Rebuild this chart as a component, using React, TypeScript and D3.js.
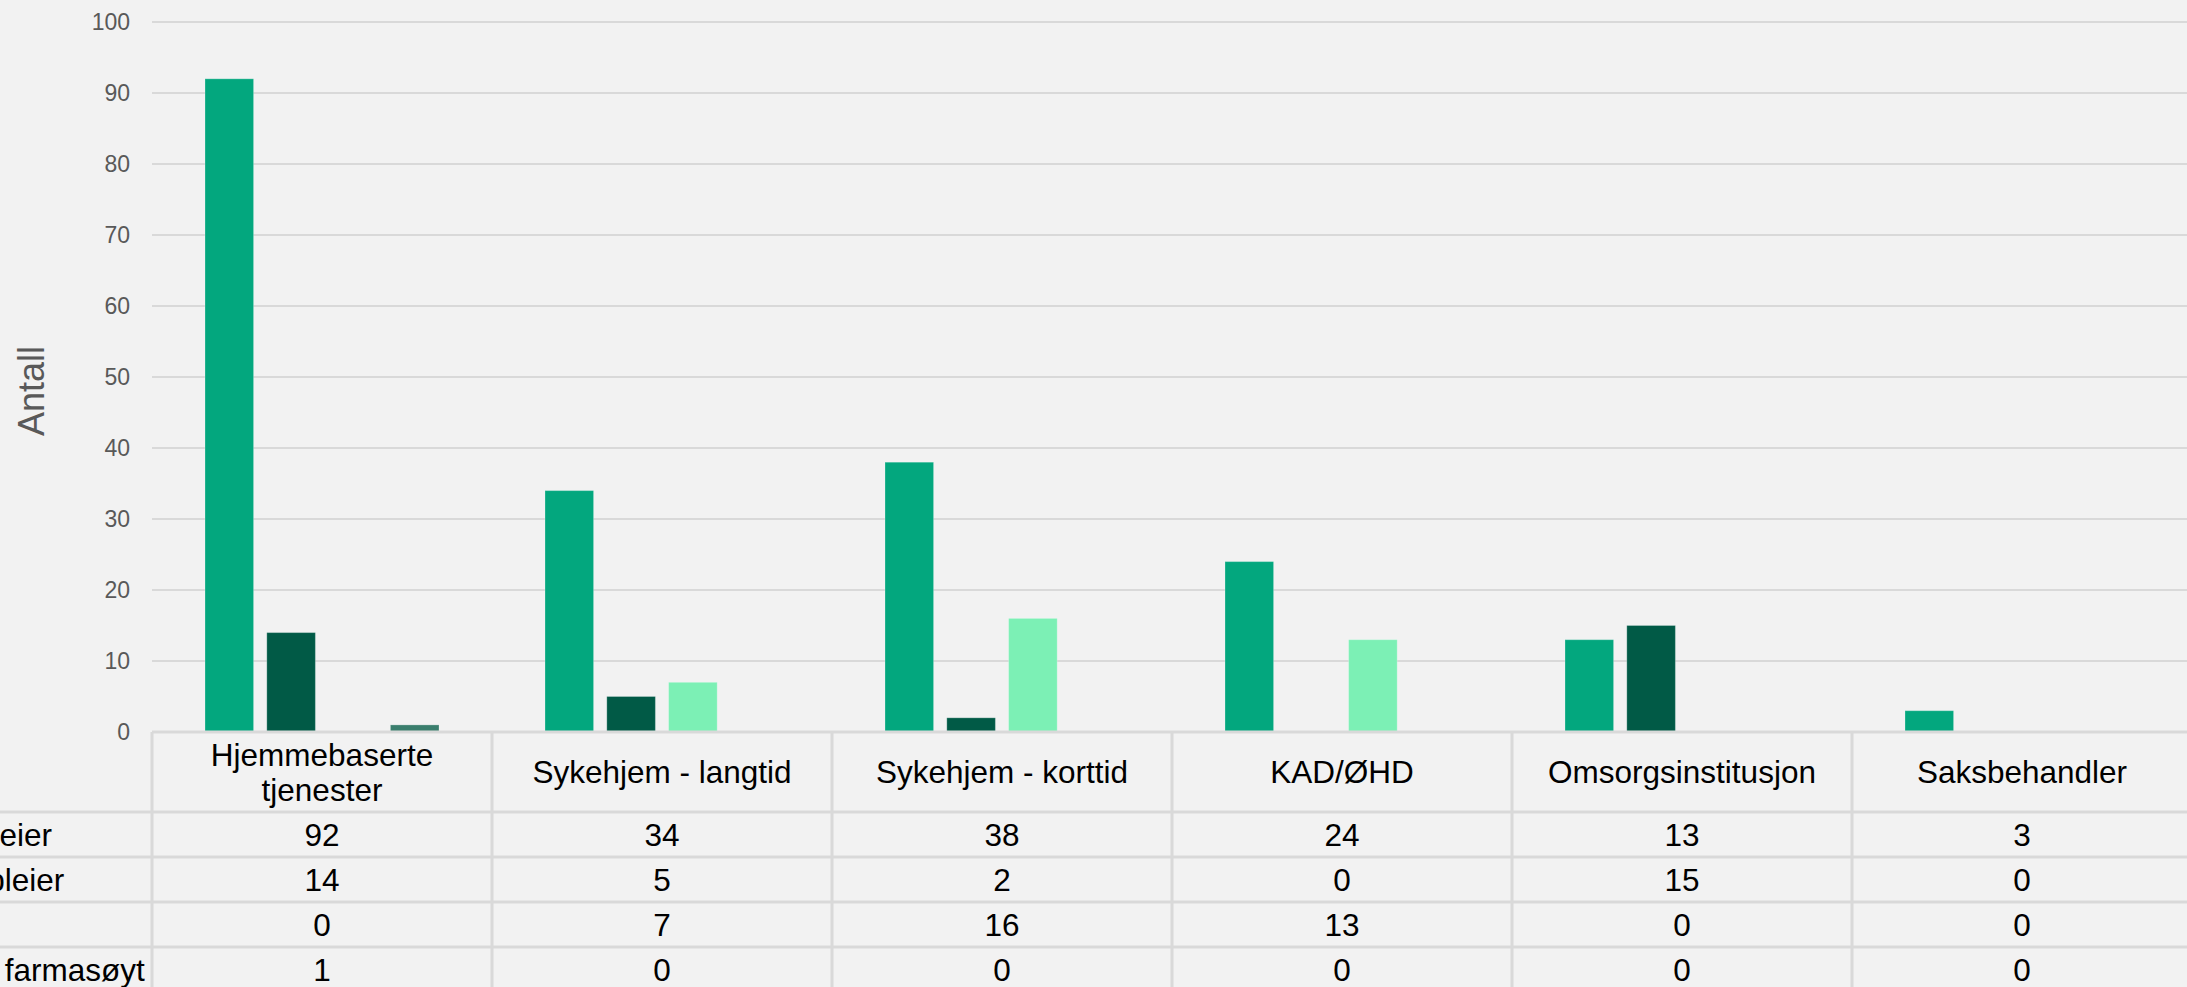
import React, { useEffect, useRef } from 'react';
import * as d3 from 'd3';

// categories (x axis / table header)
const categories = [
    "Hjemmebaserte tjenester",
    "Sykehjem - langtid",
    "Sykehjem - korttid",
    "KAD/ØHD",
    "Omsorgsinstitusjon",
    "Saksbehandler"
];
// header labels split onto lines like the original
const categoryLines = [
    ["Hjemmebaserte", "tjenester"],
    ["Sykehjem - langtid"],
    ["Sykehjem - korttid"],
    ["KAD/ØHD"],
    ["Omsorgsinstitusjon"],
    ["Saksbehandler"]
];

const seriesNames = ["Sykepleier", "Vernepleier", "Lege", "Klinisk farmasøyt"];
const sykepleier = [92, 34, 38, 24, 13, 3];
const vernepleier = [14, 5, 2, 0, 15, 0];
const lege = [0, 7, 16, 13, 0, 0];
const farmasoyt = [1, 0, 0, 0, 0, 0];
const seriesValues = [sykepleier, vernepleier, lege, farmasoyt];

const yTicks = [0, 10, 20, 30, 40, 50, 60, 70, 80, 90, 100];
const colors = ["#03a77e", "#015a46", "#7cf0b5", "#3a7e6d"];

const FONT = "'Liberation Sans', Arial, sans-serif";

const App = () => {
    const ref = useRef<SVGSVGElement | null>(null);

    useEffect(() => {
        const svg = d3.select(ref.current);
        svg.selectAll("*").remove();

        var W = 2187, H = 987;
        var left = 152, top = 22, bottom = 732, right = 2192;

        svg.append("rect").attr("width", W).attr("height", H).attr("fill", "#f2f2f2");

        // scales
        var x0 = d3.scaleBand().domain(categories).range([left, right]);
        var x1 = d3.scaleBand().domain(seriesNames)
            .range([53, x0.bandwidth() - 53])
            .paddingInner(0.214);
        var y = d3.scaleLinear().domain([0, 100]).range([bottom, top]);

        // gridlines
        svg.append("g").selectAll("line")
            .data(yTicks.filter(t => t > 0))
            .enter().append("line")
            .attr("x1", left).attr("x2", W)
            .attr("y1", d => y(d)).attr("y2", d => y(d))
            .attr("stroke", "#d9d9d9").attr("stroke-width", 2);

        // y tick labels
        svg.append("g").selectAll("text")
            .data(yTicks)
            .enter().append("text")
            .attr("x", 130)
            .attr("y", d => y(d))
            .attr("dy", "0.35em")
            .attr("text-anchor", "end")
            .style("font-family", FONT)
            .style("font-size", "23px")
            .attr("fill", "#595959")
            .text(d => d);

        // y axis title
        svg.append("text")
            .attr("transform", "translate(44,391) rotate(-90)")
            .attr("text-anchor", "middle")
            .style("font-family", FONT)
            .style("font-size", "36px")
            .attr("fill", "#595959")
            .text("Antall");

        // bars
        seriesNames.forEach((name, si) => {
            svg.append("g").selectAll("rect")
                .data(seriesValues[si].map((v, i) => ({ cat: categories[i], v })).filter(d => d.v > 0))
                .enter().append("rect")
                .attr("x", d => (x0(d.cat) as number) + (x1(name) as number))
                .attr("y", d => y(d.v))
                .attr("width", x1.bandwidth())
                .attr("height", d => y(0) - y(d.v))
                .attr("fill", colors[si])
                .attr("stroke", "#ffffff")
                .attr("stroke-opacity", 0.25)
                .attr("stroke-width", 1);
        });

        // data table
        var headerBottom = 812, rowH = 45;
        var border = "#d9d9d9";
        var tbl = svg.append("g");

        // top line (axis)
        tbl.append("line")
            .attr("x1", left).attr("x2", W)
            .attr("y1", bottom).attr("y2", bottom)
            .attr("stroke", border).attr("stroke-width", 3);

        // row lines
        d3.range(0, seriesNames.length + 1).forEach(r => {
            tbl.append("line")
                .attr("x1", 0).attr("x2", W)
                .attr("y1", headerBottom + r * rowH).attr("y2", headerBottom + r * rowH)
                .attr("stroke", border).attr("stroke-width", 3);
        });

        // column lines
        categories.concat(["end"]).forEach((c, i) => {
            var xx = left + i * x0.bandwidth();
            tbl.append("line")
                .attr("x1", xx).attr("x2", xx)
                .attr("y1", bottom).attr("y2", H)
                .attr("stroke", border).attr("stroke-width", 3);
        });

        // header labels
        categories.forEach((c, i) => {
            var lines = categoryLines[i];
            var cx = (x0(c) as number) + x0.bandwidth() / 2;
            var cy = (bottom + headerBottom) / 2;
            var lh = 35;
            lines.forEach((ln, li) => {
                tbl.append("text")
                    .attr("x", cx)
                    .attr("y", cy + (li - (lines.length - 1) / 2) * lh)
                    .attr("dy", "0.35em")
                    .attr("text-anchor", "middle")
                    .style("font-family", FONT)
                    .style("font-size", "31.5px")
                    .attr("fill", "#000")
                    .text(ln);
            });
        });

        // row labels (cut off at the left edge as in the original)
        seriesNames.forEach((name, si) => {
            tbl.append("text")
                .attr("x", -95)
                .attr("y", headerBottom + si * rowH + rowH / 2)
                .attr("dy", "0.35em")
                .attr("text-anchor", "start")
                .style("font-family", FONT)
                .style("font-size", "31.5px")
                .attr("fill", "#000")
                .text(name);

            // values
            seriesValues[si].forEach((v, i) => {
                tbl.append("text")
                    .attr("x", (x0(categories[i]) as number) + x0.bandwidth() / 2)
                    .attr("y", headerBottom + si * rowH + rowH / 2)
                    .attr("dy", "0.35em")
                    .attr("text-anchor", "middle")
                    .style("font-family", FONT)
                    .style("font-size", "31.5px")
                    .attr("fill", "#000")
                    .text(v);
            });
        });
    }, []);

    return (
        <svg ref={ref} width={2187} height={987}
            style={{ position: "absolute", left: 0, top: 0, display: "block" }} />
    );
};

export default App;
